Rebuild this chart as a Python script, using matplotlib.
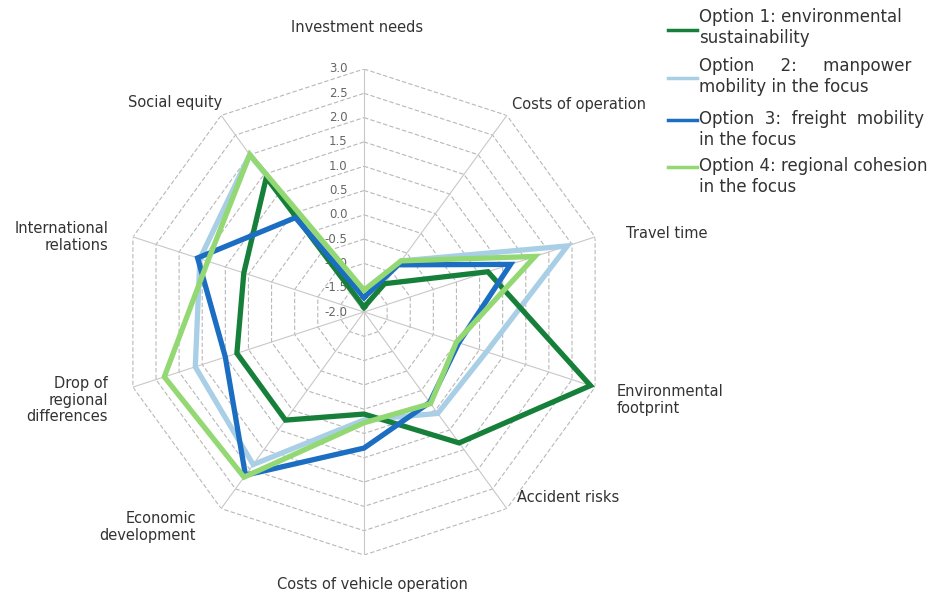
import numpy as np
import matplotlib
matplotlib.use("Agg")
import matplotlib.pyplot as plt
from matplotlib.lines import Line2D

# criteria, clockwise from the top
criteria = ["Investment needs", "Costs of operation", "Travel time",
            "Environmental\nfootprint", "Accident risks",
            "Costs of vehicle operation", "Economic\ndevelopment",
            "Drop of\nregional\ndifferences", "International\nrelations",
            "Social equity"]

opt1 = [-1.9, -1.28, 0.68, 2.9, 1.33, 0.1, 0.75, 0.75, 0.6, 1.42]
opt2 = [-1.65, -0.7, 2.4, 0.65, 0.58, 0.22, 1.88, 1.65, 1.55, 2.0]
opt3 = [-1.7, -0.8, 1.17, 0.05, 0.3, 0.8, 2.15, 1.0, 1.6, 0.4]
opt4 = [-1.55, -0.7, 1.7, 0.0, 0.33, 0.28, 2.2, 2.32, 1.38, 2.0]

legend_labels = ["Option 1: environmental\nsustainability",
                 "Option     2:     manpower\nmobility in the focus",
                 "Option  3:  freight  mobility\nin the focus",
                 "Option 4: regional cohesion\nin the focus"]

levels = np.arange(-2.0, 3.01, 0.5)

W, H = 944, 597
fig = plt.figure(figsize=(W / 100, H / 100), dpi=100)
fig.patch.set_facecolor("white")

cx, cy, R = 364, 312, 243
ax = fig.add_axes([(cx - R) / W, 1 - (cy + R) / H, 2 * R / W, 2 * R / H],
                  projection="polar")
ax.set_theta_zero_location("N")
ax.set_theta_direction(-1)
ax.set_ylim(-2.0, 3.0)
ax.grid(False)
ax.set_xticks([])
ax.set_yticks([])
ax.spines["polar"].set_visible(False)
ax.patch.set_alpha(0)

n = len(criteria)
theta = np.linspace(0, 2 * np.pi, n, endpoint=False)
theta_c = np.append(theta, theta[0])

# decagon rings and spokes
for lv in levels[1:]:
    ax.plot(theta_c, [lv] * (n + 1), color="#b8b8b8", lw=0.8,
            ls=(0, (4, 2)), zorder=1)
for t in theta:
    ax.plot([t, t], [-2.0, 3.0], color="#c8c8c8", lw=0.8, zorder=1)

# value labels along the top spoke
for lv in levels:
    ax.annotate(f"{lv:.1f}", xy=(0, lv), xytext=(-12, 0),
                textcoords="offset points", ha="right", va="center",
                fontsize=8.5, color="#666666", zorder=2)

colors = ["#16803a", "#a8cfe6", "#1b6ec2", "#93d872"]
series = [opt1, opt2, opt3, opt4]
zorders = [4, 3, 5, 6]
for vals, col, z in zip(series, colors, zorders):
    ax.plot(theta_c, vals + vals[:1], color=col, lw=3.8, zorder=z,
            solid_joinstyle="miter")

# criterion labels
label_pos = [(357, 28, "center"), (512, 105, "left"), (626, 234, "left"),
             (617, 400, "left"), (517, 497, "left"), (372, 585, "center"),
             (196, 527, "right"), (108, 400, "right"), (108, 237, "right"),
             (222, 103, "right")]
for name, (x, y, ha) in zip(criteria, label_pos):
    fig.text(x / W, 1 - y / H, name, ha=ha, va="center", fontsize=10.5,
             color="#333333", multialignment=ha if ha != "center" else "center",
             linespacing=1.15)

# legend drawn by hand
leg_rows = [(30, 18), (78, 67), (120, 120), (167, 167)]
for lab, col, (ly, ty) in zip(legend_labels, colors, leg_rows):
    fig.add_artist(Line2D([668 / W, 697 / W], [1 - ly / H, 1 - ly / H],
                          color=col, lw=2.5))
    fig.text(699 / W, 1 - (ty - 10) / H, lab, ha="left", va="top",
             fontsize=12, color="#333333", linespacing=1.2)

fig.savefig("out.png", dpi=100, facecolor="white")
